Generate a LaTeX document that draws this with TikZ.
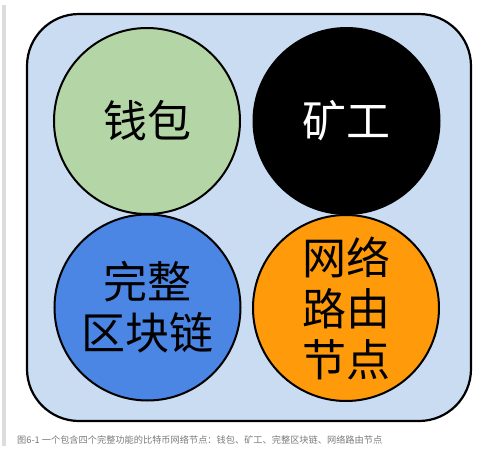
\documentclass[tikz,border=0pt]{standalone}
\usepackage{fontspec}
\newfontfamily\cjk{Noto Sans CJK SC}
\definecolor{boxblue}{HTML}{C9DCF1}
\definecolor{walletgreen}{HTML}{B4D6A6}
\definecolor{chainblue}{HTML}{4B86E5}
\definecolor{routerorange}{HTML}{FF9A0A}
\definecolor{bargray}{HTML}{DCDCDC}
\definecolor{captiongray}{HTML}{7A7A7A}
\begin{document}
\begin{tikzpicture}[x=1pt,y=-1pt]
\tikzstyle{peer} = [circle,draw,line width=2pt,minimum size=186pt,inner sep=0pt,align=center,font=\cjk\fontsize{44}{51}\selectfont];
\tikzstyle{caption} = [anchor=west,inner sep=0pt,text=captiongray,font=\cjk\fontsize{9.2}{10}\selectfont];
\useasboundingbox (0,0) rectangle (483,453);
\fill [bargray] (2,5) rectangle (6,446);
\draw [fill=boxblue,line width=2.2pt,rounded corners=52pt] (27,14) rectangle (471,421);

\node [peer,fill=walletgreen] (wallet) at (147,121) {钱包};
\node [peer,fill=black,text=white] (miner) at (346.5,121) {矿工};

\node [peer,fill=chainblue] (chain) at (147.5,307.5) {完整\\区块链};
\node [peer,fill=routerorange] (router) at (346,308) {网络\\路由\\节点};

\node [caption] (title) at (17,440) {图6-1 一个包含四个完整功能的比特币网络节点：钱包、矿工、完整区块链、网络路由节点};
\end{tikzpicture}
\end{document}
